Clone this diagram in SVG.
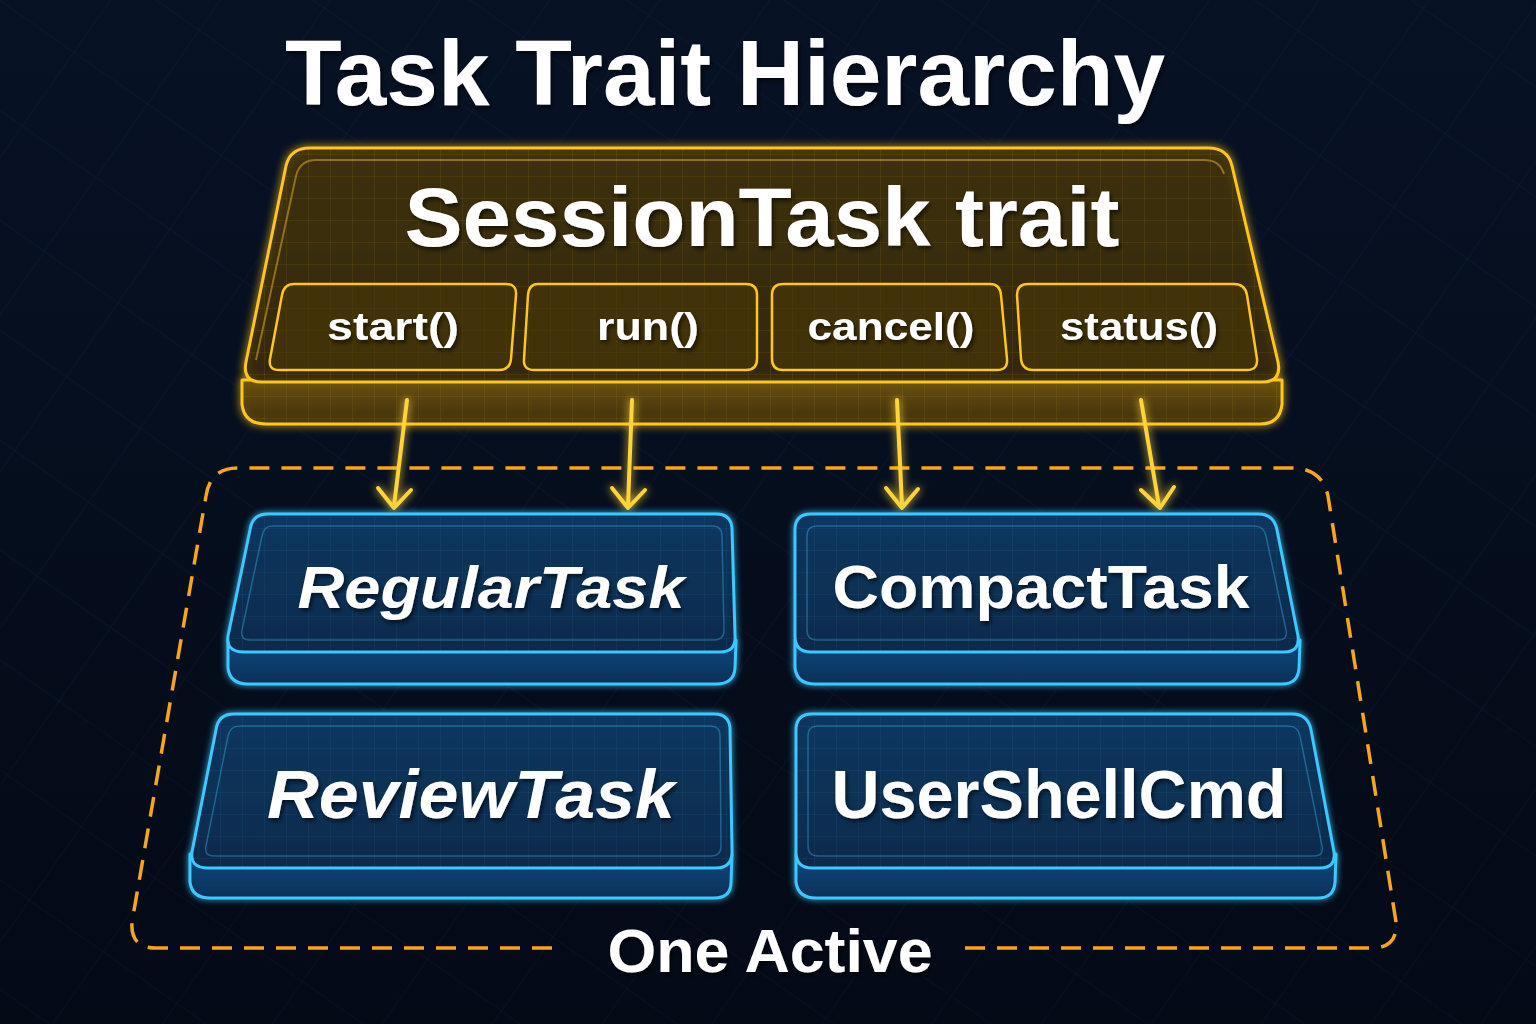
<svg xmlns="http://www.w3.org/2000/svg" width="1536" height="1024" viewBox="0 0 1536 1024">
<defs>
  <style>
    .t { font-family: "Liberation Sans", Arial, sans-serif; font-weight: bold; fill: #ffffff; text-anchor: middle; }
    .ysl { stroke: #ffc61c; stroke-width: 3; stroke-linejoin: round; }
    .bsl { stroke: #3cc8ff; stroke-width: 3; stroke-linejoin: round; }
    .arrow { fill: none; stroke: #ffd43a; stroke-width: 4; stroke-linecap: round; stroke-linejoin: round; }
    .inner-y { fill: none; stroke: #ffc61c; stroke-opacity: 0.45; stroke-width: 2; }
    .inner-b { fill: none; stroke: #3cc8ff; stroke-opacity: 0.35; stroke-width: 1.5; }
    .meth { fill: #4a3808; fill-opacity: 0.55; stroke: #ffc61c; stroke-width: 2.5; }
  </style>
  <linearGradient id="bg" x1="0" y1="0" x2="0" y2="1">
    <stop offset="0" stop-color="#071225"/>
    <stop offset="1" stop-color="#040a16"/>
  </linearGradient>
  <linearGradient id="yface" x1="0" y1="0" x2="0" y2="1">
    <stop offset="0" stop-color="#3e300a"/>
    <stop offset="1" stop-color="#33280a"/>
  </linearGradient>
  <linearGradient id="yfront" x1="0" y1="0" x2="0" y2="1">
    <stop offset="0" stop-color="#6a5010"/>
    <stop offset="1" stop-color="#3e300a"/>
  </linearGradient>
  <linearGradient id="bface" x1="0" y1="0" x2="0" y2="1">
    <stop offset="0" stop-color="#0c3760"/>
    <stop offset="1" stop-color="#092a4c"/>
  </linearGradient>
  <linearGradient id="bfront" x1="0" y1="0" x2="0" y2="1">
    <stop offset="0" stop-color="#0f4a80"/>
    <stop offset="1" stop-color="#0a3058"/>
  </linearGradient>
  <pattern id="ygrid" width="22" height="22" patternUnits="userSpaceOnUse">
    <path d="M22 0 L0 0 0 22" fill="none" stroke="#ffb300" stroke-opacity="0.16" stroke-width="1"/>
  </pattern>
  <pattern id="bgrid" width="22" height="22" patternUnits="userSpaceOnUse">
    <path d="M22 0 L0 0 0 22" fill="none" stroke="#3cc8ff" stroke-opacity="0.12" stroke-width="1"/>
  </pattern>
  <pattern id="bggrid" width="90" height="90" patternUnits="userSpaceOnUse" patternTransform="rotate(35)">
    <path d="M90 0 L0 0 0 90" fill="none" stroke="#2a4a7a" stroke-opacity="0.18" stroke-width="1"/>
  </pattern>
  <filter id="glowY" x="-10%" y="-10%" width="120%" height="120%">
    <feGaussianBlur stdDeviation="4" result="b"/>
    <feMerge><feMergeNode in="b"/><feMergeNode in="SourceGraphic"/></feMerge>
  </filter>
  <filter id="glowB" x="-10%" y="-10%" width="120%" height="120%">
    <feGaussianBlur stdDeviation="3" result="b"/>
    <feMerge><feMergeNode in="b"/><feMergeNode in="SourceGraphic"/></feMerge>
  </filter>
  <filter id="shadow" x="-10%" y="-20%" width="120%" height="140%">
    <feDropShadow dx="2" dy="3" stdDeviation="2" flood-color="#000000" flood-opacity="0.6"/>
  </filter>
</defs>

<rect width="1536" height="1024" fill="url(#bg)"/>
<rect width="1536" height="1024" fill="url(#bggrid)"/>

<text class="t" x="725" y="105" font-size="92" textLength="880" lengthAdjust="spacingAndGlyphs" filter="url(#shadow)">Task Trait Hierarchy</text>

<!-- Trait slab -->
<g id="session-task-trait">
  <g filter="url(#glowY)">
    <path d="M242,380 L242,404 Q244,424 266,424 L1260,424 Q1280,424 1282,404 L1282,380 Z" fill="url(#yfront)" fill-opacity="0.9" class="ysl"/>
    <path d="M310,148 L1208,148 Q1228,148 1232,166 L1278,362 Q1282,382 1262,382 L262,382 Q242,382 246,362 L286,166 Q290,148 310,148 Z" fill="url(#yface)" fill-opacity="0.92" class="ysl"/>
  </g>
  <path d="M310,148 L1208,148 Q1228,148 1232,166 L1278,362 Q1282,382 1262,382 L262,382 Q242,382 246,362 L286,166 Q290,148 310,148 Z" fill="url(#ygrid)"/>
  <path d="M244,384 L1280,384 L1280,422 L244,422 Z" fill="url(#ygrid)"/>
  <path class="inner-y" d="M316,160 L1204,160 Q1220,160 1224,174"/>
  <path class="inner-y" d="M316,160 Q300,160 296,176 L256,360"/>
  <text class="t" x="762" y="246" font-size="83" textLength="715" lengthAdjust="spacingAndGlyphs" filter="url(#shadow)">SessionTask trait</text>

  <g id="m-start">
    <path class="meth" d="M294,284 L506,284 Q517,284 516,295 L511,359 Q510,370 499,370 L279,370 Q268,370 270,359 L282,295 Q284,284 294,284 Z"/>
    <text class="t" x="393" y="340" font-size="38" textLength="132" lengthAdjust="spacingAndGlyphs" filter="url(#shadow)">start()</text>
  </g>
  <g id="m-run">
    <path class="meth" d="M538,284 L746,284 Q757,284 757,295 L757,359 Q757,370 746,370 L534,370 Q523,370 524,359 L528,295 Q529,284 538,284 Z"/>
    <text class="t" x="648" y="340" font-size="38" textLength="102" lengthAdjust="spacingAndGlyphs" filter="url(#shadow)">run()</text>
  </g>
  <g id="m-cancel">
    <path class="meth" d="M783,284 L990,284 Q1000,284 1001,295 L1007,359 Q1008,370 997,370 L783,370 Q772,370 772,359 L772,295 Q772,284 783,284 Z"/>
    <text class="t" x="891" y="340" font-size="38" textLength="167" lengthAdjust="spacingAndGlyphs" filter="url(#shadow)">cancel()</text>
  </g>
  <g id="m-status">
    <path class="meth" d="M1028,284 L1234,284 Q1245,284 1247,295 L1257,359 Q1258,370 1247,370 L1033,370 Q1022,370 1021,359 L1017,295 Q1017,284 1028,284 Z"/>
    <text class="t" x="1139" y="340" font-size="38" textLength="158" lengthAdjust="spacingAndGlyphs" filter="url(#shadow)">status()</text>
  </g>
</g>

<!-- One Active container -->
<g id="one-active-group">
  <path d="M965,948 L1372,948 Q1398,948 1396,922 L1328,496 Q1322,468 1292,468 L238,468 Q210,468 206,496 L132,922 Q130,948 156,948 L556,948" fill="none" stroke="#f7a51c" stroke-width="3.5" stroke-dasharray="20 12"/>
  <text class="t" x="770" y="972" font-size="61" textLength="325" lengthAdjust="spacingAndGlyphs" filter="url(#shadow)">One Active</text>
</g>

<!-- Connectors -->
<g id="connectors" filter="url(#glowY)">
  <path class="arrow" d="M407,400 L394,506"/>
  <path class="arrow" d="M378,488 L394,508 L411,490"/>
  <path class="arrow" d="M632,400 L628,506"/>
  <path class="arrow" d="M612,488 L628,508 L645,490"/>
  <path class="arrow" d="M897,400 L902,506"/>
  <path class="arrow" d="M886,488 L902,508 L918,489"/>
  <path class="arrow" d="M1141,400 L1159,506"/>
  <path class="arrow" d="M1141,490 L1160,508 L1174,487"/>
</g>

<!-- Blue nodes -->
<g id="regular-task">
  <g filter="url(#glowB)">
    <path d="M228,640 L228,668 Q230,684 248,684 L716,684 Q734,684 735,668 L736,640 Z" fill="url(#bfront)" class="bsl"/>
    <path d="M268,514 L716,514 Q732,514 732,530 L735,636 Q736,652 720,652 L244,652 Q226,652 228,636 L250,530 Q252,514 268,514 Z" fill="url(#bface)" class="bsl"/>
  </g>
  <path d="M268,514 L716,514 Q732,514 732,530 L735,636 Q736,652 720,652 L244,652 Q226,652 228,636 L250,530 Q252,514 268,514 Z" fill="url(#bgrid)"/>
  <path class="inner-b" d="M272,526 L712,526 Q722,526 722,536 L724,630 Q724,640 714,640 L250,640 Q240,640 242,630 L262,536 Q264,526 272,526 Z"/>
  <text class="t" x="491" y="608" font-size="60" font-style="italic" textLength="387" lengthAdjust="spacingAndGlyphs" filter="url(#shadow)">RegularTask</text>
</g>

<g id="compact-task">
  <g filter="url(#glowB)">
    <path d="M795,640 L795,668 Q797,684 815,684 L1282,684 Q1298,684 1299,668 L1300,640 Z" fill="url(#bfront)" class="bsl"/>
    <path d="M811,514 L1258,514 Q1274,514 1277,530 L1298,636 Q1300,652 1284,652 L811,652 Q795,652 795,636 L795,530 Q795,514 811,514 Z" fill="url(#bface)" class="bsl"/>
  </g>
  <path d="M811,514 L1258,514 Q1274,514 1277,530 L1298,636 Q1300,652 1284,652 L811,652 Q795,652 795,636 L795,530 Q795,514 811,514 Z" fill="url(#bgrid)"/>
  <path class="inner-b" d="M817,526 L1254,526 Q1264,526 1266,536 L1286,630 Q1288,640 1278,640 L817,640 Q807,640 807,630 L807,536 Q807,526 817,526 Z"/>
  <text class="t" x="1041" y="608" font-size="62" textLength="417" lengthAdjust="spacingAndGlyphs" filter="url(#shadow)">CompactTask</text>
</g>

<g id="review-task">
  <g filter="url(#glowB)">
    <path d="M190,854 L190,882 Q192,898 210,898 L714,898 Q731,898 731,882 L732,854 Z" fill="url(#bfront)" class="bsl"/>
    <path d="M234,714 L714,714 Q730,714 730,730 L732,852 Q732,868 716,868 L208,868 Q190,868 192,852 L216,730 Q218,714 234,714 Z" fill="url(#bface)" class="bsl"/>
  </g>
  <path d="M234,714 L714,714 Q730,714 730,730 L732,852 Q732,868 716,868 L208,868 Q190,868 192,852 L216,730 Q218,714 234,714 Z" fill="url(#bgrid)"/>
  <path class="inner-b" d="M240,726 L710,726 Q720,726 720,736 L721,846 Q721,856 711,856 L214,856 Q204,856 206,846 L228,736 Q230,726 240,726 Z"/>
  <text class="t" x="471" y="818" font-size="68" font-style="italic" textLength="408" lengthAdjust="spacingAndGlyphs" filter="url(#shadow)">ReviewTask</text>
</g>

<g id="user-shell-cmd">
  <g filter="url(#glowB)">
    <path d="M796,854 L796,882 Q798,898 816,898 L1318,898 Q1334,898 1335,882 L1336,854 Z" fill="url(#bfront)" class="bsl"/>
    <path d="M812,714 L1292,714 Q1308,714 1311,730 L1334,852 Q1336,868 1320,868 L812,868 Q796,868 796,852 L796,730 Q796,714 812,714 Z" fill="url(#bface)" class="bsl"/>
  </g>
  <path d="M812,714 L1292,714 Q1308,714 1311,730 L1334,852 Q1336,868 1320,868 L812,868 Q796,868 796,852 L796,730 Q796,714 812,714 Z" fill="url(#bgrid)"/>
  <path class="inner-b" d="M818,726 L1288,726 Q1298,726 1300,736 L1322,846 Q1324,856 1314,856 L818,856 Q808,856 808,846 L808,736 Q808,726 818,726 Z"/>
  <text class="t" x="1059" y="818" font-size="68" textLength="455" lengthAdjust="spacingAndGlyphs" filter="url(#shadow)">UserShellCmd</text>
</g>
</svg>
